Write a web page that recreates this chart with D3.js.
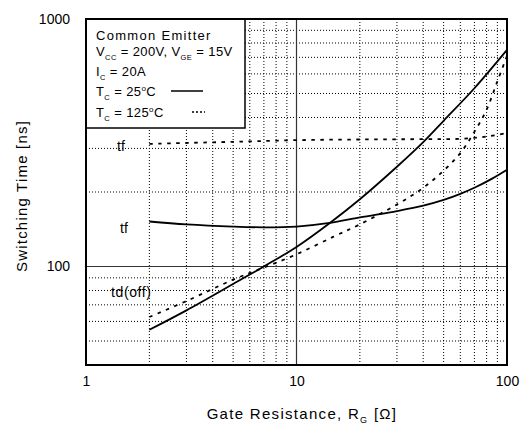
<!DOCTYPE html>
<html>
<head>
<meta charset="utf-8">
<script src="https://cdn.jsdelivr.net/npm/d3@7"></script>
<style>
  body { margin: 0; background: #fff; }
  text { font-family: "Liberation Sans", Arial, sans-serif; fill: #000; }
</style>
</head>
<body>
<div id="chart"></div>
<script>
// gate resistance values [ohm] where the curves were read
const rgTf25 = [2, 3, 5, 7, 10, 14.4, 20, 30, 40, 50, 60, 70, 85, 100];
const tf25 = [152, 148, 145, 144, 145, 150, 158, 167.5, 176, 185.7, 196.6, 208, 226.5, 246];

const rgTd25 = [2, 3, 5, 7, 10, 14.4, 20, 30, 40, 50, 70, 100];
const td25 = [55.5, 66.5, 85, 100, 120, 150, 187, 253, 318, 388, 525, 750];

const rgTf125 = [2, 5, 10, 20, 40, 60, 80, 100];
const tf125 = [313, 319, 324, 326, 327, 328, 335, 346];

const rgTd125 = [2, 3, 5, 7, 10, 15, 20, 30, 40, 50, 60, 70, 80, 90, 100];
const td125 = [62.5, 72.5, 88.5, 99, 112, 132, 148, 178, 208, 244, 287, 350, 430, 560, 710];

const xTicks = [1, 10, 100];
const yTicks = [100, 1000];
const xMinor = [2, 3, 4, 5, 6, 7, 8, 9, 20, 30, 40, 50, 60, 70, 80, 90];
const yMinor = [50, 60, 70, 80, 90, 200, 300, 400, 500, 600, 700, 800, 900];

const W = 525, H = 428;
const mLeft = 86, mRight = 507, mTop = 19, mBottom = 365;

const svg = d3.select("#chart").append("svg")
    .attr("width", W)
    .attr("height", H);

const x = d3.scaleLog().domain([1, 100]).range([mLeft, mRight]);
const y = d3.scaleLog().domain([40, 1000]).range([mBottom, mTop]);

// dotted minor grid
svg.append("g").selectAll("line").data(xMinor).join("line")
    .attr("x1", d => x(d)).attr("x2", d => x(d))
    .attr("y1", mTop).attr("y2", mBottom)
    .attr("stroke", "#000").attr("stroke-width", 1)
    .attr("stroke-dasharray", "1,2");
svg.append("g").selectAll("line").data(yMinor).join("line")
    .attr("y1", d => y(d)).attr("y2", d => y(d))
    .attr("x1", mLeft).attr("x2", mRight)
    .attr("stroke", "#000").attr("stroke-width", 1)
    .attr("stroke-dasharray", "1,2");

// solid decade lines
svg.append("line")
    .attr("x1", x(10)).attr("x2", x(10)).attr("y1", mTop).attr("y2", mBottom)
    .attr("stroke", "#333").attr("stroke-width", 1.2);
svg.append("line")
    .attr("y1", y(100)).attr("y2", y(100)).attr("x1", mLeft).attr("x2", mRight)
    .attr("stroke", "#333").attr("stroke-width", 1.2);

const line = d3.line()
    .x(d => x(d[0]))
    .y(d => y(d[1]))
    .curve(d3.curveCatmullRom.alpha(0.5));

const curves = [
    { rg: rgTf25, v: tf25, dash: null },
    { rg: rgTd25, v: td25, dash: null },
    { rg: rgTf125, v: tf125, dash: "3.5,5.5" },
    { rg: rgTd125, v: td125, dash: "3.5,5.5" }
];

curves.forEach(c => {
    svg.append("path")
        .datum(c.rg.map((r, i) => [r, c.v[i]]))
        .attr("fill", "none")
        .attr("stroke", "#000")
        .attr("stroke-width", 1.8)
        .attr("stroke-dasharray", c.dash)
        .attr("d", line);
});

// curve labels
svg.append("text").attr("x", 121).attr("y", 151).attr("text-anchor", "middle")
    .attr("font-size", 14).text("tf");
svg.append("text").attr("x", 124).attr("y", 233).attr("text-anchor", "middle")
    .attr("font-size", 14).text("tf");
svg.append("text").attr("x", 111).attr("y", 297)
    .attr("font-size", 14).attr("letter-spacing", 0.6).text("td(off)");

// legend box
const lg = svg.append("g");
lg.append("rect")
    .attr("x", mLeft).attr("y", mTop).attr("width", 159).attr("height", 109)
    .attr("fill", "#fff").attr("stroke", "#000").attr("stroke-width", 1.5);

const lx = 96;
lg.append("text").attr("x", lx).attr("y", 40).attr("font-size", 13)
    .attr("letter-spacing", 1.3).text("Common Emitter");

function sub(t, main, s, rest) {
    t.append("tspan").text(main);
    t.append("tspan").attr("dy", 4).attr("font-size", 7.5).text(s);
    t.append("tspan").attr("dy", -4).text(rest);
}
const t1 = lg.append("text").attr("x", lx).attr("y", 56).attr("font-size", 13)
    .attr("letter-spacing", 0.4);
sub(t1, "V", "CC", " = 200V, V");
t1.append("tspan").attr("dy", 4).attr("font-size", 7.5).text("GE");
t1.append("tspan").attr("dy", -4).text(" = 15V");

const t2 = lg.append("text").attr("x", lx).attr("y", 76).attr("font-size", 13)
    .attr("letter-spacing", 0.4);
sub(t2, "I", "C", " = 20A");

const t3 = lg.append("text").attr("x", lx).attr("y", 96).attr("font-size", 13)
    .attr("letter-spacing", 0.4);
sub(t3, "T", "C", " = 25");
t3.append("tspan").attr("dy", -5).attr("font-size", 8).text("o");
t3.append("tspan").attr("dy", 5).text("C");

const t4 = lg.append("text").attr("x", lx).attr("y", 117).attr("font-size", 13)
    .attr("letter-spacing", 0.4);
sub(t4, "T", "C", " = 125");
t4.append("tspan").attr("dy", -5).attr("font-size", 8).text("o");
t4.append("tspan").attr("dy", 5).text("C");

lg.append("line").attr("x1", 171).attr("x2", 203).attr("y1", 91).attr("y2", 91)
    .attr("stroke", "#000").attr("stroke-width", 1.5);
lg.append("line").attr("x1", 192).attr("x2", 205).attr("y1", 112).attr("y2", 112)
    .attr("stroke", "#000").attr("stroke-width", 1.5).attr("stroke-dasharray", "2,2");

// frame
svg.append("rect")
    .attr("x", mLeft).attr("y", mTop).attr("width", mRight - mLeft).attr("height", mBottom - mTop)
    .attr("fill", "none").attr("stroke", "#000").attr("stroke-width", 2);

// axes labels
const xAxis = d3.axisBottom(x).tickValues(xTicks).tickFormat(d3.format("d")).tickSize(0).tickPadding(11);
svg.append("g").attr("transform", `translate(0,${mBottom})`).call(xAxis)
    .call(g => g.select(".domain").remove())
    .call(g => g.selectAll("text").attr("font-size", 14)
        .attr("font-family", "Liberation Sans, Arial, sans-serif").attr("fill", "#000"));

const yAxis = d3.axisLeft(y).tickValues(yTicks).tickFormat(d3.format("d")).tickSize(0).tickPadding(16);
svg.append("g").attr("transform", `translate(${mLeft},0)`).call(yAxis)
    .call(g => g.select(".domain").remove())
    .call(g => g.selectAll("text").attr("font-size", 14)
        .attr("font-family", "Liberation Sans, Arial, sans-serif").attr("fill", "#000"));

const xt = svg.append("text").attr("x", 302).attr("y", 419)
    .attr("text-anchor", "middle").attr("font-size", 15).attr("letter-spacing", 1.3);
xt.append("tspan").text("Gate Resistance, R");
xt.append("tspan").attr("dy", 4).attr("font-size", 9).text("G");
xt.append("tspan").attr("dy", -4).text(" [Ω]");

svg.append("text")
    .attr("transform", `translate(27,196) rotate(-90)`)
    .attr("text-anchor", "middle").attr("font-size", 15).attr("letter-spacing", 1.2)
    .text("Switching Time [ns]");
</script>
</body>
</html>
